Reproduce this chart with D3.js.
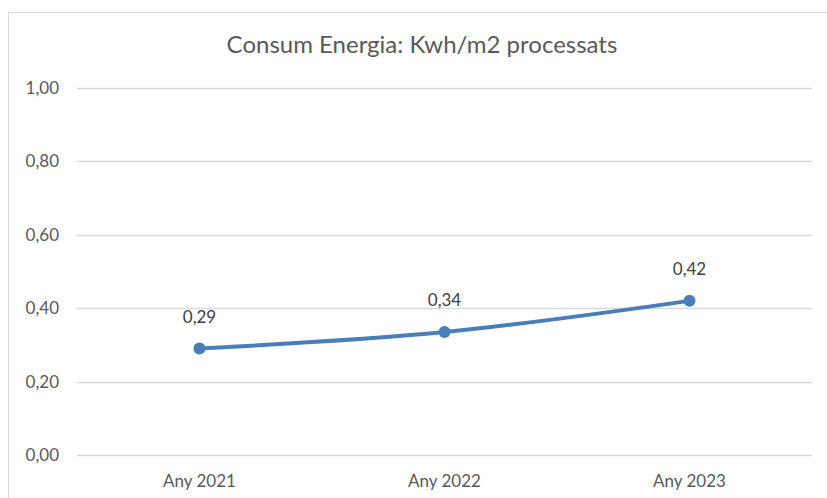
<!DOCTYPE html>
<html>
<head>
<meta charset="utf-8">
<script src="https://cdn.jsdelivr.net/npm/d3@7.9.0/dist/d3.min.js"></script>
<style>
  body { margin: 0; background: #fff; }
  text { font-family: Lato, "Open Sans", sans-serif; }
</style>
</head>
<body>
<div id="viz"></div>
<script>
const categories = ["Any 2021", "Any 2022", "Any 2023"];
const values = [0.29, 0.335, 0.42];
const valueLabels = ["0,29", "0,34", "0,42"];
const yTicks = [0, 0.2, 0.4, 0.6, 0.8, 1.0];
const title = "Consum Energia: Kwh/m2 processats";

const width = 827, height = 498;
const margin = { top: 88, right: 15, bottom: 43, left: 77 };
const fmt = d => d.toFixed(2).replace(".", ",");

const svg = d3.select("#viz").append("svg")
  .attr("width", width)
  .attr("height", height);

// chart frame
svg.append("rect")
  .attr("x", 8.5).attr("y", 12.5)
  .attr("width", width + 20).attr("height", height + 20)
  .attr("fill", "none")
  .attr("stroke", "#d9d9d9");

const x = d3.scaleBand()
  .domain(categories)
  .range([margin.left, width - margin.right]);

const y = d3.scaleLinear()
  .domain([0, 1])
  .range([height - margin.bottom, margin.top]);

// gridlines
svg.append("g")
  .selectAll("line")
  .data(yTicks)
  .join("line")
  .attr("x1", margin.left)
  .attr("x2", width - margin.right)
  .attr("y1", d => Math.round(y(d)) + 0.5)
  .attr("y2", d => Math.round(y(d)) + 0.5)
  .attr("stroke", "#d9d9d9")
  .attr("stroke-width", 1.3);

// y labels
svg.append("g")
  .selectAll("text")
  .data(yTicks)
  .join("text")
  .attr("x", 59)
  .attr("y", d => y(d))
  .attr("dy", "0.35em")
  .attr("text-anchor", "end")
  .attr("font-size", "17px")
  .attr("fill", "#595959")
  .text(fmt);

// x labels
svg.append("g")
  .selectAll("text")
  .data(categories)
  .join("text")
  .attr("x", d => x(d) + x.bandwidth() / 2)
  .attr("y", 481)
  .attr("dy", "0.35em")
  .attr("text-anchor", "middle")
  .attr("font-size", "17px")
  .attr("fill", "#595959")
  .text(d => d);

// title
svg.append("text")
  .attr("x", 422)
  .attr("y", 45)
  .attr("dy", "0.35em")
  .attr("text-anchor", "middle")
  .attr("font-size", "24px")
  .attr("fill", "#595959")
  .text(title);

const pts = categories.map((c, i) => ({ c, v: values[i], label: valueLabels[i] }));

const line = d3.line()
  .x(d => x(d.c) + x.bandwidth() / 2)
  .y(d => y(d.v))
  .curve(d3.curveMonotoneX);

svg.append("path")
  .datum(pts)
  .attr("d", line)
  .attr("fill", "none")
  .attr("stroke", "#4a7ebb")
  .attr("stroke-width", 4)
  .attr("stroke-linecap", "round");

svg.append("g")
  .selectAll("circle")
  .data(pts)
  .join("circle")
  .attr("cx", d => x(d.c) + x.bandwidth() / 2)
  .attr("cy", d => y(d.v))
  .attr("r", 6)
  .attr("fill", "#4a7ebb");

svg.append("g")
  .selectAll("text")
  .data(pts)
  .join("text")
  .attr("x", d => x(d.c) + x.bandwidth() / 2)
  .attr("y", d => y(d.v) - 24)
  .attr("dy", "-0.1em")
  .attr("text-anchor", "middle")
  .attr("font-size", "17px")
  .attr("fill", "#404040")
  .text(d => d.label);
</script>
</body>
</html>
